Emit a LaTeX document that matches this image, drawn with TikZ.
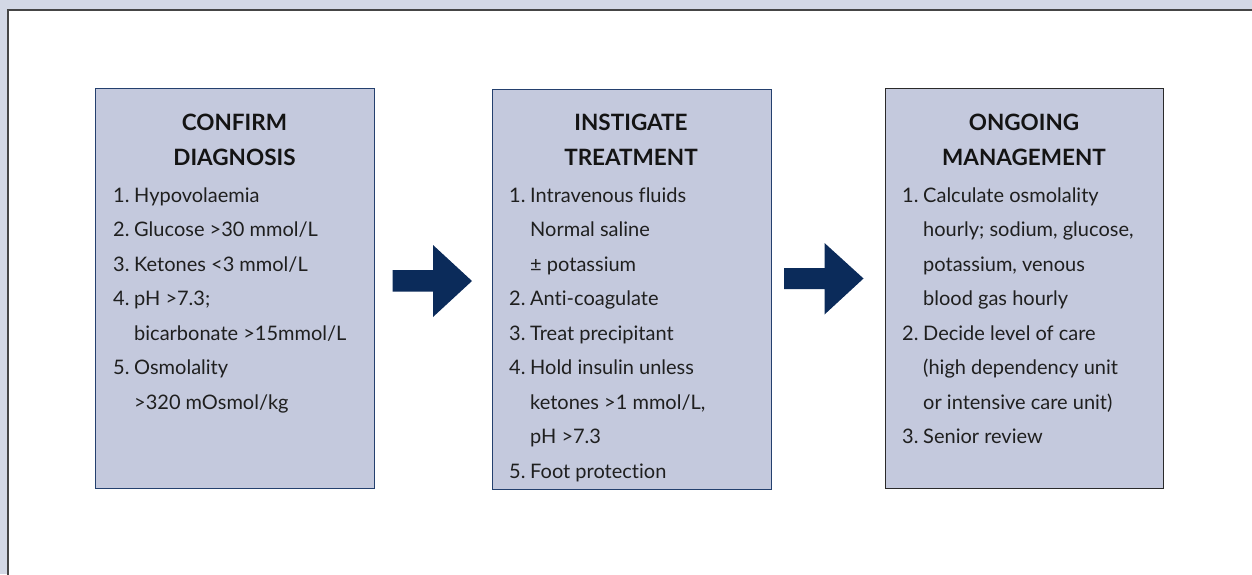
\documentclass[tikz,border=0pt]{standalone}
\usepackage{fontspec}
\setmainfont[Ligatures=NoCommon]{Lato}
\definecolor{bgout}{HTML}{D3D8E5}
\definecolor{frameline}{HTML}{454545}
\definecolor{boxfill}{HTML}{C4C9DD}
\definecolor{arrowcol}{HTML}{0B2B5A}
\definecolor{boxnavy}{HTML}{24406E}
\definecolor{boxdark}{HTML}{2A2A2A}
\tikzset{
  stepbox/.style={draw=boxnavy, fill=boxfill, line width=1.1pt, anchor=north west, inner sep=0pt},
  ttl/.style={font=\fontsize{22.5}{26}\selectfont\bfseries, anchor=base, inner sep=0pt, text=black!92},
  num/.style={font=\fontsize{20}{24}\selectfont, anchor=base west, inner sep=0pt, text=black!88},
  txt/.style={num},
  blockarrow/.style={fill=arrowcol, draw=none}
}
\begin{document}
\begin{tikzpicture}[x=1pt,y=-1pt]
\useasboundingbox (0,0) rectangle (1252,574);
\clip (0,0) rectangle (1252,574);
\fill[bgout] (0,0) rectangle (1252,574);
\filldraw[fill=white, draw=frameline, line width=1.6pt] (8,10) rectangle (1270,600);

% boxes
\node[stepbox, minimum width=279pt, minimum height=400pt] (b1) at (95,88) {};
\node[stepbox, minimum width=279pt, minimum height=400pt] (b2) at (491.5,89) {};
\node[stepbox, draw=boxdark, minimum width=278pt, minimum height=400pt] (b3) at (885,88) {};

% arrows
\coordinate (a1) at (392.5,270);
\coordinate (a2) at (784,268);
\fill[blockarrow] (a1) -- ++(40.5,0) -- ++(0,-25) -- ++(39,36) -- ++(-39,36) -- ++(0,-25.5) -- ++(-40.5,0) -- cycle;
\fill[blockarrow] (a2) -- ++(40.5,0) -- ++(0,-25) -- ++(39,35.5) -- ++(-39,36) -- ++(0,-25.5) -- ++(-40.5,0) -- cycle;

% box 1
\node[ttl] (b1h1) at (234.5,130) {CONFIRM};
\node[ttl] (b1h2) at (234.5,165.5) {DIAGNOSIS};
\node[num] (b1n1) at (113,202) {1.};
\node[txt] (b1l1) at (134,202) {Hypovolaemia};
\node[num] (b1n2) at (113,236.5) {2.};
\node[txt] (b1l2) at (134,236.5) {Glucose >30 mmol/L};
\node[num] (b1n3) at (113,271) {3.};
\node[txt] (b1l3) at (134,271) {Ketones <3 mmol/L};
\node[num] (b1n4) at (113,305.5) {4.};
\node[txt] (b1l4) at (134,305.5) {pH >7.3;};
\node[txt] (b1l5) at (134,340) {bicarbonate >15mmol/L};
\node[num] (b1n5) at (113,374.5) {5.};
\node[txt] (b1l6) at (134,374.5) {Osmolality};
\node[txt] (b1l7) at (134,409) {>320 mOsmol/kg};

% box 2
\node[ttl] (b2h1) at (631,130) {INSTIGATE};
\node[ttl] (b2h2) at (631,165.5) {TREATMENT};
\node[num] (b2n1) at (509,202) {1.};
\node[txt] (b2l1) at (530,202) {Intravenous fluids};
\node[txt] (b2l2) at (530,236.5) {Normal saline};
\node[txt] (b2l3) at (530,271) {± potassium};
\node[num] (b2n2) at (509,305.5) {2.};
\node[txt] (b2l4) at (530,305.5) {Anti-coagulate};
\node[num] (b2n3) at (509,340) {3.};
\node[txt] (b2l5) at (530,340) {Treat precipitant};
\node[num] (b2n4) at (509,374.5) {4.};
\node[txt] (b2l6) at (530,374.5) {Hold insulin unless};
\node[txt] (b2l7) at (530,409) {ketones >1 mmol/L,};
\node[txt] (b2l8) at (530,443.5) {pH >7.3};
\node[num] (b2n5) at (509,478) {5.};
\node[txt] (b2l9) at (530,478) {Foot protection};

% box 3
\node[ttl] (b3h1) at (1024,130) {ONGOING};
\node[ttl] (b3h2) at (1024,165.5) {MANAGEMENT};
\node[num] (b3n1) at (902,202) {1.};
\node[txt] (b3l1) at (923,202) {Calculate osmolality};
\node[txt] (b3l2) at (923,236.5) {hourly; sodium, glucose,};
\node[txt] (b3l3) at (923,271) {potassium, venous};
\node[txt] (b3l4) at (923,305.5) {blood gas hourly};
\node[num] (b3n2) at (902,340) {2.};
\node[txt] (b3l5) at (923,340) {Decide level of care};
\node[txt] (b3l6) at (923,374.5) {(high dependency unit};
\node[txt] (b3l7) at (923,409) {or intensive care unit)};
\node[num] (b3n3) at (902,443.5) {3.};
\node[txt] (b3l8) at (923,443.5) {Senior review};
\end{tikzpicture}
\end{document}
